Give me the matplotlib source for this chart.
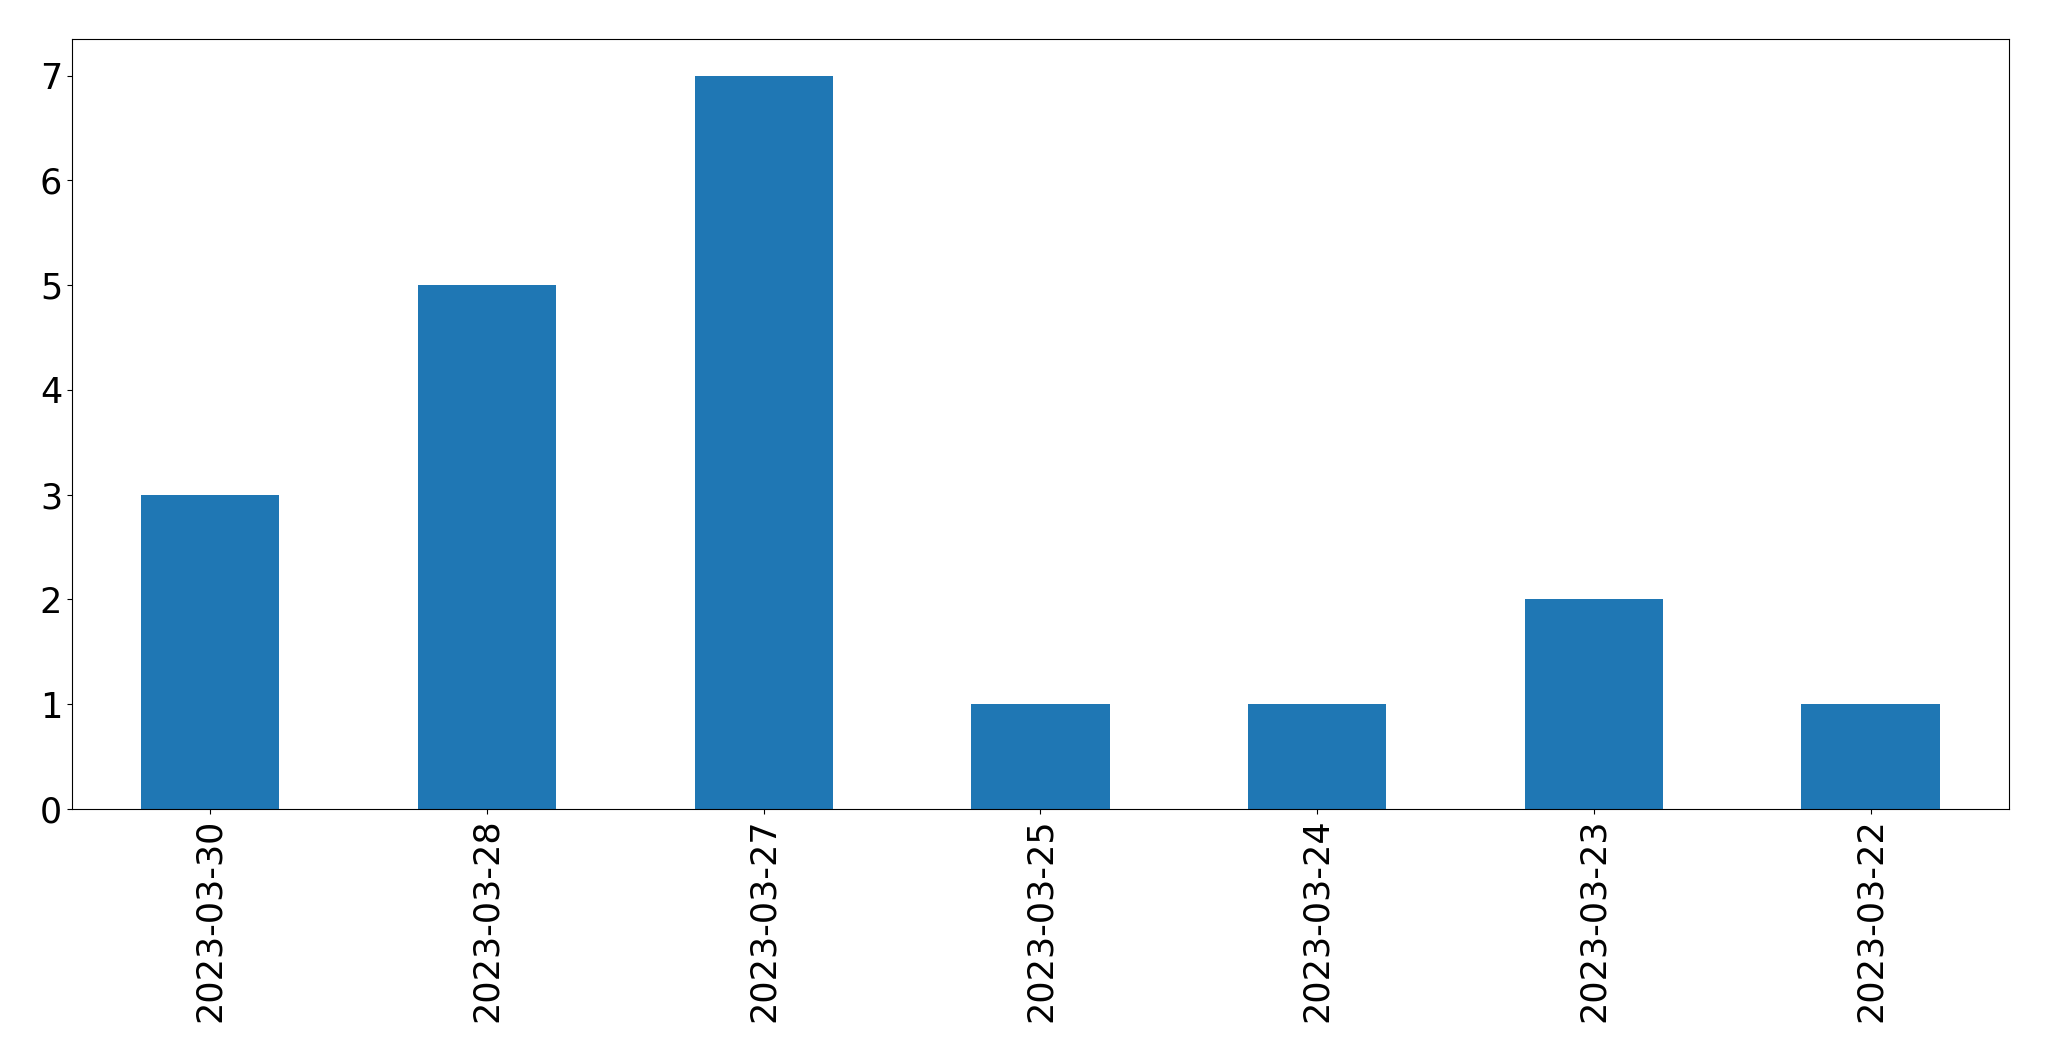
import pandas as pd
import matplotlib
matplotlib.use("Agg")
import matplotlib.pyplot as plt

# dates as they appear on the chart (newest first)
dates = ["2023-03-30", "2023-03-28", "2023-03-27", "2023-03-25",
         "2023-03-24", "2023-03-23", "2023-03-22"]
counts = [3, 5, 7, 1, 1, 2, 1]

series = pd.Series(counts, index=dates)

fig, ax = plt.subplots(figsize=(20.49, 10.61), dpi=100)
series.plot.bar(ax=ax, color="#1f77b4", rot=90, fontsize=25.2)
ax.set_xlabel("")

fig.subplots_adjust(left=0.0351, right=0.9805, top=0.9632, bottom=0.2375)
fig.savefig("out.png", dpi=100)
